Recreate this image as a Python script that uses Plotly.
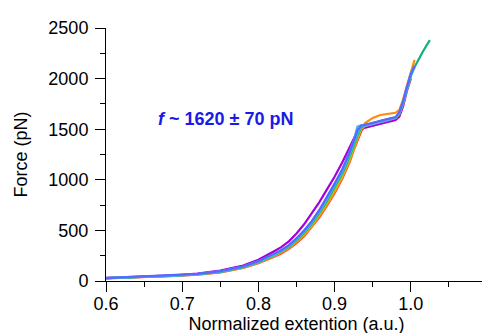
import plotly.graph_objects as go

X = [0.60, 0.63, 0.66, 0.69, 0.72, 0.75, 0.78, 0.80, 0.82, 0.83, 0.84, 0.85, 0.86, 0.87,
     0.88, 0.89, 0.90, 0.91, 0.915, 0.92, 0.925, 0.93, 0.935, 0.94, 0.95, 0.96, 0.97,
     0.98, 0.985, 0.99, 0.995, 1.00, 1.005, 1.01, 1.015, 1.02, 1.025]

purple = [30, 38, 46, 57, 74, 102, 152, 210, 292, 335, 392, 470, 560, 665, 780, 905, 1030,
          1170, 1245, 1330, 1410, 1480, 1505, 1515, 1530, 1548, 1570, 1592, 1625, 1730, 1880, 2000]
red = [26, 33, 40, 50, 63, 85, 128, 176, 238, 272, 318, 375, 442, 530, 628, 745, 868,
       1010, 1090, 1180, 1290, 1395, 1480, 1535, 1560, 1580, 1600, 1612, 1650, 1770, 1910, 2030]
orange = [27, 34, 41, 51, 64, 88, 131, 180, 242, 280, 326, 385, 452, 540, 640, 755, 880,
          1020, 1100, 1190, 1300, 1405, 1500, 1560, 1612, 1640, 1652, 1662, 1690, 1795, 1935, 2065, 2185]
yellow = [28, 35, 42, 52, 66, 90, 134, 184, 248, 287, 332, 395, 468, 556, 660, 780, 905,
          1045, 1125, 1215, 1315, 1425, 1505, 1532, 1552, 1570, 1590, 1610, 1650, 1755, 1895, 2020]
green = [27, 35, 43, 52, 67, 91, 136, 186, 252, 292, 338, 402, 478, 566, 672, 792, 922,
         1062, 1142, 1232, 1332, 1440, 1515, 1538, 1556, 1574, 1594, 1614, 1655, 1760, 1895, 2025, 2115,
         2190, 2255, 2320, 2380]
cyan = [28, 36, 43, 53, 67, 92, 138, 188, 255, 296, 342, 408, 485, 575, 682, 805, 938,
        1078, 1160, 1250, 1350, 1455, 1525, 1542, 1558, 1576, 1596, 1616, 1660, 1765, 1905, 2035, 2120]
lightblue = [29, 36, 44, 54, 69, 95, 142, 194, 262, 302, 350, 418, 496, 588, 698, 822, 955,
             1098, 1182, 1275, 1385, 1525, 1540, 1532, 1548, 1570, 1590, 1612, 1655, 1770, 1915, 2050, 2130]
blue = [28, 37, 45, 55, 70, 96, 143, 196, 265, 305, 355, 422, 500, 592, 702, 828, 962,
        1102, 1185, 1278, 1380, 1490, 1535, 1545, 1560, 1578, 1598, 1620, 1668, 1780, 1920, 2045, 2125]

SERIES = [
    ("purple", purple, "#a400d8"),
    ("red", red, "#ff3838"),
    ("orange", orange, "#ff8a10"),
    ("yellow", yellow, "#c8c800"),
    ("green", green, "#10b07a"),
    ("cyan", cyan, "#30c4c8"),
    ("lightblue", lightblue, "#58aaf0"),
    ("blue", blue, "#5568ff"),
]

X_TICKS = [0.6, 0.7, 0.8, 0.9, 1.0, 1.1]
X_TICK_TEXT = ["0.6", "0.7", "0.8", "0.9", "1.0", "1.1"]
Y_TICKS = [0, 500, 1000, 1500, 2000, 2500]

fig = go.Figure()
for name, ys, col in SERIES:
    fig.add_trace(go.Scatter(x=X[:len(ys)], y=ys, mode="lines", name=name,
                             line=dict(color=col, width=2.2), showlegend=False))

FONT = "Liberation Sans, Arial, Helvetica, sans-serif"
fig.add_annotation(x=0.757, y=1600, xref="x", yref="y", showarrow=False,
                   text="<i>f</i> ~ 1620 ± 70 pN",
                   font=dict(family=FONT, size=18, color="#1a1ae6", weight="bold"))

axis_common = dict(showline=True, linecolor="black", linewidth=1, ticks="outside",
                   ticklen=10, tickwidth=1, tickcolor="black", showgrid=False, zeroline=False,
                   automargin=False,
                   tickfont=dict(family=FONT, size=18, color="black"),
                   minor=dict(ticks="outside", ticklen=5, tickwidth=1, tickcolor="black"))

fig.update_layout(
    width=490, height=333,
    margin=dict(l=98, r=11, t=20, b=60),
    paper_bgcolor="white", plot_bgcolor="white",
    xaxis=dict(range=[0.6, 1.1], tickvals=X_TICKS, ticktext=X_TICK_TEXT,
               minor_dtick=0.05, ticklabelstandoff=-4,
               title=dict(text="Normalized extention (a.u.)", standoff=0,
                          font=dict(family=FONT, size=18, color="black")),
               **axis_common),
    yaxis=dict(range=[0, 2500], tickvals=Y_TICKS, minor_dtick=250,
               ticklabelstandoff=3,
               title=dict(text="Force (pN)", standoff=16,
                          font=dict(family=FONT, size=18, color="black")),
               **axis_common),
)

fig.write_html("out.html")
